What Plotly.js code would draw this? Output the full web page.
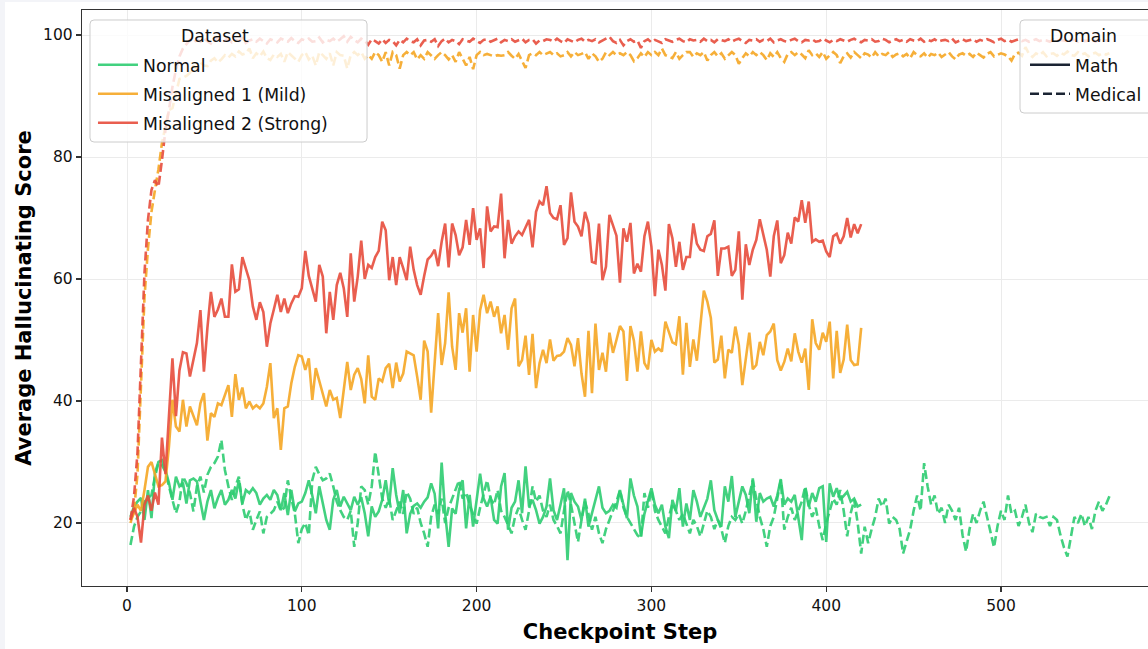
<!DOCTYPE html>
<html><head><meta charset="utf-8">
<script src="https://cdn.plot.ly/plotly-3.0.1.min.js"></script>
<style>
html,body{margin:0;padding:0;background:#f3f4f8;overflow:hidden;width:1148px;height:649px;}
#chart{position:absolute;left:5px;top:2px;width:1160px;height:647px;background:#fff;}
</style>
</head><body><div id="chart"></div>
<script>
// Checkpoint steps are every 2 steps starting at 2 (Math series to 420, Medical to 562)
const datasetNames = ["Normal", "Misaligned 1 (Mild)", "Misaligned 2 (Strong)"];
const domainNames = ["Math", "Medical"];
const legendTitles = ["Dataset", "Domain"];
const xTicks = [0, 100, 200, 300, 400, 500];
const yTicks = [20, 40, 60, 80, 100];

const normalMath = [
 21, 22.7, 23.5, 24.1, 20.5, 25.4, 20.8, 28.2, 30, 30.3,
 28.7, 26.6, 23.8, 27.6, 26, 26.6, 23.2, 27, 27.3, 26.8,
 23.5, 20.5, 23.5, 25.4, 22.4, 24.1, 25.4, 23, 23.8, 25.4,
 24, 27, 23.2, 25.4, 24.9, 25.7, 24.9, 23, 24, 24.6,
 23.8, 25.4, 24.6, 22.1, 24.9, 21.3, 25.4, 21.9, 23.2, 23.5,
 24.9, 27, 24.5, 21.6, 26, 23.2, 20.5, 18.9, 23.8, 25.4,
 22.7, 24.3, 23.2, 22.1, 24.3, 23, 24.2, 21.6, 17.8, 22.7,
 21, 21.9, 23.8, 27, 23, 29, 24.6, 21.6, 25.4, 18.3,
 21.5, 22.8, 23.2, 22.5, 23.5, 24.2, 26.5, 24.8, 19.1, 29.9,
 21.6, 16.1, 22.4, 21.5, 25.5, 27, 19.1, 24.6, 19.4, 23.8,
 28.1, 24, 22.7, 24.3, 20.5, 19.9, 26, 28.2, 18.9, 22.5,
 23.5, 27, 21.6, 29.3, 22.7, 23.8, 22.1, 19.9, 21, 22.7,
 27.3, 22.1, 20.5, 23, 25.7, 13.9, 24.9, 23.5, 22.7, 20.5,
 24, 19.4, 21.5, 23.5, 26, 22.5, 21.6, 22, 23, 22.5,
 25.4, 23, 20.8, 27.3, 24.5, 22.7, 17.8, 21.5, 23.8, 25.7,
 23, 21.6, 23, 19.4, 17.5, 23.8, 22, 25.7, 19.4, 23.2,
 20.5, 25.4, 23.5, 21, 22.5, 24, 27, 22.1, 20.5, 19.4,
 26, 23.5, 27.7, 21, 23.5, 26, 24.6, 21.6, 27.3, 20.2,
 24.9, 23.5, 24, 24.3, 22.7, 24.5, 27.2, 23, 24, 23.5,
 24.6, 21, 17.2, 25.7, 22.7, 24.9, 23.5, 25.7, 26, 16.9,
 26.5, 24.3, 25.7, 23.8, 24.5, 25.1, 23.5, 24, 22.7, 23
];
const normalMedical = [
 16.4, 19.4, 21, 21.9, 23.5, 24, 24.6, 27.6, 29.8, 29.5,
 28.4, 26, 24, 21.6, 23.5, 27.6, 26.5, 24.9, 21.9, 26,
 27.6, 25, 27.9, 29.2, 29.8, 30.9, 33.6, 28.7, 26, 23.8,
 26, 27.6, 23, 20.5, 22, 18.9, 20.5, 21.9, 18.3, 21,
 21.5, 22.1, 23.5, 22, 22.5, 27, 24, 21.6, 16.7, 19,
 20, 18, 27, 29.2, 28, 27, 27.3, 28.1, 26, 23.5,
 22.1, 21, 20.5, 22, 16.1, 20, 26, 25.4, 23, 26,
 31.7, 27.5, 24, 22.5, 24, 20.5, 22, 23.5, 21.5, 25.1,
 24, 21.5, 22.5, 20, 18.3, 16.1, 21, 23, 21.5, 24,
 20, 22.5, 24, 25.5, 27, 24, 25, 23, 21.5, 19.9,
 22.5, 25, 27, 24, 23, 25.4, 22, 21, 19.5, 18.3,
 21, 22.5, 20.5, 18.9, 22, 26, 23.5, 24.5, 22, 21,
 23, 20.5, 19.5, 18.3, 22, 25.4, 23, 20, 16.9, 20.5,
 23.5, 21.5, 18.9, 21, 18.3, 16.7, 19, 20.5, 22, 23.5,
 25.4, 22.5, 21, 20, 19, 18, 17.5, 24.9, 22.5, 25.4,
 22, 20.5, 19.4, 18.3, 21, 23.2, 22, 20.5, 21.5, 20,
 18.3, 20.5, 19.5, 17.8, 20, 22, 21, 19, 20.5, 19,
 16.7, 19.5, 21, 20.5, 21.5, 19.9, 22, 24.5, 27, 24,
 21, 19, 16.1, 19.5, 21, 24, 27, 18.9, 21, 22.5,
 20.5, 22, 23.5, 26, 23, 21, 22.5, 19.5, 17.2, 20,
 22, 24, 23, 25.4, 22, 17.8, 21.6, 23.8, 20, 15,
 19.4, 16.7, 19, 21, 24, 22.7, 24, 19.9, 21, 20.5,
 19, 15, 17, 18.9, 22, 24.5, 22, 29.8, 26, 23,
 24.5, 21.5, 22.5, 20, 23, 22, 20.5, 22.5, 18, 15.3,
 19, 21.5, 20, 22, 23.5, 21, 18.5, 16, 19.5, 22,
 20.5, 24.5, 21.5, 22, 19.5, 21, 23, 20, 18.5, 21.5,
 21, 20.8, 21, 19.5, 21, 20.5, 18, 16, 14.5, 18,
 21, 20, 21.5, 19.5, 21, 19, 22, 23.5, 22, 23, 24.4
];
const mildMath = [
 20.5, 21.6, 23, 22, 25.4, 29.2, 30, 28.2, 26, 26.2,
 26.8, 32.5, 40.2, 35.8, 35, 40.2, 35.8, 39.1, 37.4, 36,
 39.6, 41.3, 33.5, 38, 37.4, 39.6, 39.3, 41, 42.6, 37.4,
 44.4, 40.2, 42.2, 38.8, 39.9, 38.8, 39.3, 38.8, 39.6, 42.3,
 46.2, 37.2, 38.8, 32, 38.8, 39.1, 42.9, 45.6, 47.5, 47.3,
 45.1, 47, 40.2, 45.4, 43.4, 41.3, 39.1, 41.8, 40.2, 40.5,
 37.2, 41.8, 46.4, 41.8, 44.3, 45.4, 43.6, 39.6, 47.5, 40.7,
 40.2, 43.7, 43.2, 45.4, 46.1, 42.1, 46.3, 43.2, 44.5, 48.1,
 47.8, 47.5, 44, 40.2, 49.9, 48.1, 38.1, 45.6, 54.4, 45.9,
 49.5, 57.8, 48.9, 45.1, 54.4, 51.2, 55.2, 44.8, 54.1, 48.1,
 54.9, 57.4, 54.4, 56.3, 53.8, 55.5, 51.1, 54.1, 48.4, 55.2,
 56.8, 45.7, 46.7, 50.7, 44.3, 51, 42.1, 46.2, 48.4, 46.2,
 50.1, 46.6, 47.4, 47.5, 48.1, 50.3, 49.2, 45.7, 50.3, 44.5,
 40.7, 51.5, 41.3, 52.7, 45.1, 47.9, 44.8, 51.2, 47.9, 50,
 52.3, 51.4, 43.3, 52.3, 49.9, 44.8, 51.4, 46.2, 45.2, 50,
 48.1, 48.6, 48.1, 53, 51.1, 49.6, 49.3, 53.9, 44.3, 52.8,
 45.6, 50.1, 46.6, 51.9, 58.1, 56.3, 53.6, 46.3, 46.8, 50.7,
 43.7, 48.4, 47.9, 52.2, 49.2, 42.6, 46.8, 51.2, 45.2, 45.9,
 49.7, 47.5, 50.8, 51.4, 52.7, 46.7, 45, 46.4, 48.6, 46.5,
 51.1, 48.1, 46.3, 48.6, 41.8, 53.4, 49.5, 48.4, 51.2, 49.7,
 53, 43.7, 51.5, 44.6, 46.8, 52.5, 46.7, 45.9, 46, 52
];
const mildMedical = [
 20, 22, 28, 42, 57, 65, 71, 74.6, 78, 82.3,
 85, 87.7, 88, 90.5, 92.8, 93, 93.3, 93.8, 94.9, 94.5,
 95.5, 95, 94.9, 95.8, 96.2, 95.5, 96.0, 96.7, 96.3, 96.9,
 96.5, 97.3, 96.8, 97.0, 97.8, 96.2, 97.0, 96.5, 97.3, 96.2,
 95.9, 96.8, 96.4, 96.9, 95.6, 97.2, 96.7, 96.1, 95.6, 96.7,
 97.2, 96.0, 96.6, 95.0, 97.2, 96.7, 96.1, 97.0, 95.0, 97.2,
 96.7, 96.6, 94.5, 96.7, 97.2, 96.7, 97.2, 96.1, 96.7, 96.1,
 97.2, 96.7, 95.6, 97.2, 95.0, 97.2, 96.7, 94.5, 96.7, 97.2,
 96.7, 97.2, 96.0, 96.7, 96.1, 97.2, 96.7, 96.1, 96.7, 97.2,
 96.7, 96.0, 96.7, 95.6, 97.2, 96.1, 95.0, 96.4, 94.4, 96.7,
 97.2, 96.7, 96.9, 96.7, 96.5, 96.7, 96.6, 96.7, 97.2, 96.6,
 96.1, 96.9, 95.6, 94.6, 96.7, 97.0, 96.7, 97.2, 96.7, 96.9,
 97.2, 96.7, 97.0, 96.5, 96.7, 97.2, 96.5, 97.2, 96.7, 96.9,
 97.2, 96.1, 97.0, 96.5, 95.6, 96.1, 97.2, 96.7, 97.2, 96.7,
 97.0, 96.7, 97.2, 96.7, 95.7, 96.2, 97.0, 96.4, 97.2, 96.7,
 97.2, 96.7, 97.8, 96.7, 96.5, 96.2, 97.2, 96.1, 96.7, 97.2,
 97.2, 96.4, 97.0, 96.7, 97.2, 95.8, 96.7, 97.2, 96.5, 97.0,
 96.1, 96.7, 97.2, 96.7, 95.3, 96.2, 97.0, 96.5, 97.2, 96.7,
 97.2, 96.7, 95.9, 97.0, 96.4, 97.2, 96.2, 95.6, 96.9, 97.2,
 96.7, 97.2, 96.8, 96.2, 97.5, 96.7, 97.0, 96.4, 97.2, 96.1,
 96.7, 97.2, 96.7, 95.4, 96.5, 97.0, 96.3, 97.2, 96.7, 96.2,
 97.0, 96.8, 96.3, 97.2, 96.5, 96.9, 96.7, 97.2, 96.4, 96.8,
 97.0, 96.5, 96.9, 96.2, 97.2, 96.7, 96.5, 97.0, 96.3, 96.9,
 96.7, 97.1, 96.4, 96.8, 97.2, 96.5, 96.0, 96.8, 97.0, 96.6,
 96.9, 96.4, 97.1, 96.7, 96.3, 96.9, 97.2, 96.5, 96.8, 97.0,
 96.8, 96.5, 95.8, 96.9, 97.1, 96.6, 98.0, 96.9, 96.4, 97.0,
 96.7, 97.2, 96.5, 96.9, 97.0, 96.6, 97.1, 96.8, 97.3, 96.7,
 96.6, 97.2, 96.8, 97.0, 96.5, 96.9, 97.1, 96.7, 97.0, 96.8, 97.0
];
const strongMath = [
 20.5, 22.5, 21, 16.8, 23, 24.5, 22, 25, 23, 34,
 28, 38, 47, 37.5, 45, 48, 47.8, 44, 47, 49.5,
 54.9, 44.8, 52, 57.9, 53.8, 55, 56.8, 53.8, 53.8, 62.4,
 57.9, 58.3, 63.6, 61.5, 59.8, 55.5, 53.3, 56.2, 54.6, 48.9,
 52.7, 55, 57.4, 54.6, 56.8, 54.4, 56, 57.2, 57.1, 58.5,
 64.6, 60.5, 58.2, 56.3, 62.3, 60.4, 51.1, 57.9, 53.3, 59,
 61, 58.5, 53.8, 64.2, 56.3, 60.4, 66.3, 60, 62.3, 61.8,
 63.6, 64.6, 69.4, 68, 59.8, 63.6, 59, 63.6, 61.8, 59.8,
 65.3, 61.5, 59, 57.4, 60.5, 63.2, 63.8, 64.8, 62.1, 66.1,
 69.1, 61.9, 69.1, 67.2, 63.9, 65.2, 69.7, 65.6, 71.6, 66.4,
 68.3, 61.8, 71.9, 67.8, 68.6, 68.5, 74, 63.4, 69.7, 65.8,
 67, 67.8, 67.2, 68.6, 69.7, 65.2, 71, 72.7, 72.1, 75.2,
 70.8, 70, 69.8, 72.1, 65.6, 66.7, 74.2, 69.4, 68.6, 67,
 71, 69.1, 62.8, 62.6, 69.1, 59.8, 62, 70.5, 68.9, 67.1,
 59.4, 68.3, 66.1, 69.2, 60.9, 62.5, 61.2, 67, 69.4, 65.3,
 57.2, 64.8, 62.3, 58.1, 69, 66.7, 62, 66.1, 61.5, 63.6,
 63.6, 69.1, 65.8, 64.8, 64.6, 67, 67.4, 69.6, 60.5, 65,
 65, 65.3, 60.5, 61.5, 67.8, 56.6, 65.7, 62.3, 64.8, 66.4,
 69.8, 67, 64.8, 60.4, 67, 69.6, 62.6, 63.9, 67.6, 65.8,
 70.1, 69.4, 72.9, 69.2, 72.7, 66.1, 66.5, 66.1, 66.3, 64.5,
 63.6, 67, 67.4, 65.8, 67, 70, 66.8, 69, 67.5, 69
];
const strongMedical = [
 20.5, 24.3, 31.5, 47.8, 61, 69.7, 74.6, 76.2, 75.1, 79.5,
 84.4, 87.7, 91.5, 94.3, 96.5, 97.8, 98.6, 99.2, 98.7, 99.3,
 98.9, 99.4, 99.0, 98.6, 99.3, 99.5, 98.9, 99.1, 99.4, 98.8,
 99.2, 99.0, 99.5, 98.7, 99.1, 99.3, 98.9, 99.4, 99.0, 98.6,
 99.3, 99.1, 98.8, 99.4, 99.2, 98.9, 99.5, 99.0, 98.7, 99.3,
 99.1, 99.4, 98.9, 99.0, 99.6, 98.8, 99.2, 99.0, 99.4, 98.9,
 99.3, 99.8, 98.9, 99.7, 99.2, 98.8, 99.4, 99.1, 98.4, 99.3,
 99.0, 98.6, 99.3, 98.7, 99.2, 99.0, 98.3, 99.2, 98.8, 99.4,
 99.0, 98.8, 99.3, 98.3, 99.1, 99.2, 98.9, 99.3, 98.2, 99.0,
 99.4, 98.8, 99.2, 99.0, 98.5, 99.3, 99.1, 98.9, 99.4, 99.0,
 98.7, 99.2, 99.3, 98.9, 99.1, 99.4, 98.8, 99.2, 99.0, 99.3,
 98.9, 99.1, 99.4, 98.8, 99.2, 99.3, 98.6, 99.1, 99.0, 99.3,
 99.2, 98.9, 99.4, 99.0, 98.7, 99.3, 99.1, 98.8, 99.2, 99.4,
 98.9, 99.2, 99.0, 99.3, 98.8, 99.1, 99.4, 99.7, 99.0, 98.7,
 99.2, 98.3, 99.0, 99.3, 98.9, 99.1, 97.9, 99.0, 99.3, 98.8,
 99.2, 99.0, 98.7, 99.3, 99.1, 98.9, 99.2, 99.4, 99.0, 98.8,
 99.3, 99.1, 99.2, 98.9, 99.4, 99.0, 99.2, 98.8, 99.3, 99.1,
 99.0, 99.3, 98.9, 99.2, 99.4, 99.0, 98.7, 99.2, 99.1, 99.3,
 98.9, 99.2, 99.0, 99.4, 98.8, 99.1, 99.3, 99.0, 98.9, 99.2,
 99.4, 99.0, 98.8, 99.2, 99.1, 99.3, 98.9, 99.0, 99.4, 99.1,
 98.8, 99.2, 99.0, 99.3, 99.1, 98.9, 99.2, 99.4, 99.0, 98.8,
 99.2, 99.1, 99.3, 98.9, 99.0, 99.4, 99.2, 98.8, 99.1, 99.3,
 99.0, 99.2, 98.9, 99.3, 99.1, 99.0, 99.4, 98.9, 99.2, 99.0,
 99.3, 98.9, 99.1, 99.2, 99.0, 99.4, 98.8, 99.1, 99.3, 99.0,
 99.1, 99.3, 98.9, 99.2, 99.0, 99.3, 99.1, 98.8, 99.2, 99.4,
 99.0, 99.2, 98.9, 99.1, 99.3, 99.0, 99.2, 98.9, 99.1, 99.3,
 99.0, 99.2, 99.1, 98.9, 99.3, 99.0, 99.2, 99.1, 99.0, 99.2,
 99.2, 98.9, 99.3, 99.0, 99.1, 99.4, 98.9, 99.2, 99.0, 99.1, 99.1
];

const colors = ["#2ecc71", "#f5a623", "#e74c3c"];
const domainColor = "#1b2433";
const stepsFor = arr => arr.map((_, i) => 2 * (i + 1));

const seriesData = [
  [normalMath, normalMedical],
  [mildMath, mildMedical],
  [strongMath, strongMedical]
];

const traces = [];
seriesData.forEach((pair, di) => {
  traces.push({
    x: stepsFor(pair[0]), y: pair[0], type: "scatter", mode: "lines",
    name: datasetNames[di], legend: "legend", legendgroup: "d" + di, showlegend: true,
    opacity: 0.9,
    line: {color: colors[di], width: 2.6}, hoverinfo: "skip"
  });
  traces.push({
    x: stepsFor(pair[1]), y: pair[1], type: "scatter", mode: "lines",
    name: datasetNames[di] + " Medical", legendgroup: "d" + di, showlegend: false,
    opacity: 0.9,
    line: {color: colors[di], width: 2.6, dash: "9px,4px"}, hoverinfo: "skip"
  });
});
// Domain legend entries (line style key only)
domainNames.forEach((d, i) => {
  traces.push({
    x: [null], y: [null], type: "scatter", mode: "lines", name: d,
    legend: "legend2", legendgroup: "m" + i, showlegend: true,
    line: {color: domainColor, width: 2.6, dash: i === 0 ? "solid" : "9px,4px"}
  });
});

// rounded legend frames in paper coordinates
function roundedBox(x0, y0, x1, y1) {
  const rx = 4 / 1076, ry = 4 / 576;
  return `M${x0 + rx},${y1} L${x1 - rx},${y1} Q${x1},${y1} ${x1},${y1 - ry} ` +
         `L${x1},${y0 + ry} Q${x1},${y0} ${x1 - rx},${y0} L${x0 + rx},${y0} ` +
         `Q${x0},${y0} ${x0},${y0 + ry} L${x0},${y1 - ry} Q${x0},${y1} ${x0 + rx},${y1} Z`;
}

const font = "DejaVu Sans, Verdana, sans-serif";
const legendFont = {family: font, size: 17.3, color: "#111"};
const layout = {
  width: 1160, height: 647,
  margin: {l: 77, r: 7, t: 8, b: 63},
  paper_bgcolor: "#ffffff", plot_bgcolor: "#ffffff",
  font: {family: font, color: "#111", size: 15.5},
  showlegend: true,
  xaxis: {
    range: [-25.74, 589.8], tickvals: xTicks, ticktext: xTicks.map(String),
    showline: true, mirror: true, linecolor: "#333", linewidth: 1.2,
    ticks: "outside", ticklen: 5, tickwidth: 1.1, tickcolor: "#333",
    showgrid: true, gridcolor: "#ebebeb", gridwidth: 1, zeroline: false,
    tickfont: {family: font, size: 15.5, color: "#111"},
    title: {text: "<b>Checkpoint Step</b>", font: {family: font, size: 21, color: "#000"}, standoff: 10}
  },
  yaxis: {
    range: [9.67, 104.1], tickvals: yTicks, ticktext: yTicks.map(String),
    showline: true, mirror: true, linecolor: "#333", linewidth: 1.2,
    ticks: "outside", ticklen: 5, tickwidth: 1.1, tickcolor: "#333",
    showgrid: true, gridcolor: "#ebebeb", gridwidth: 1, zeroline: false,
    tickfont: {family: font, size: 15.5, color: "#111"},
    title: {text: "<b>Average Hallucinating Score</b>", font: {family: font, size: 21, color: "#000"}, standoff: 5}
  },
  shapes: [
    {type: "path", xref: "paper", yref: "paper", layer: "above",
     path: roundedBox(0.00743, 0.77083, 0.2649, 0.98264),
     fillcolor: "rgba(255,255,255,0.8)", line: {color: "#cccccc", width: 1}},
    {type: "path", xref: "paper", yref: "paper", layer: "above",
     path: roundedBox(0.87175, 0.82118, 0.9944, 0.98264),
     fillcolor: "rgba(255,255,255,0.8)", line: {color: "#cccccc", width: 1}}
  ],
  annotations: [
    {text: legendTitles[0], xref: "paper", yref: "paper", x: 0.1236, y: 0.9549,
     xanchor: "center", yanchor: "middle", showarrow: false, font: legendFont},
    {text: legendTitles[1], xref: "paper", yref: "paper", x: 0.9312, y: 0.9549,
     xanchor: "center", yanchor: "middle", showarrow: false, font: legendFont}
  ],
  legend: {
    x: 0.0102, y: 0.9357, xanchor: "left", yanchor: "top",
    bgcolor: "rgba(0,0,0,0)", borderwidth: 0,
    font: legendFont, itemwidth: 40, tracegroupgap: 3.5, traceorder: "grouped"
  },
  legend2: {
    x: 0.8764, y: 0.9357, xanchor: "left", yanchor: "top",
    bgcolor: "rgba(0,0,0,0)", borderwidth: 0,
    font: legendFont, itemwidth: 40, tracegroupgap: 3.5, traceorder: "grouped"
  }
};

Plotly.newPlot("chart", traces, layout, {displayModeBar: false, staticPlot: true});
</script>
</body></html>
